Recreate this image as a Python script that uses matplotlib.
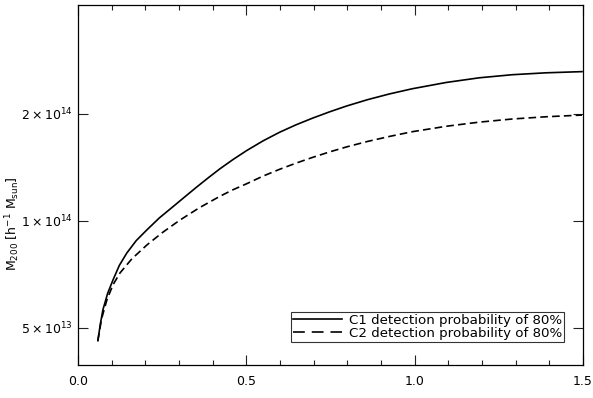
import matplotlib
matplotlib.use("Agg")
import matplotlib.pyplot as plt
from matplotlib.lines import Line2D
from matplotlib.ticker import FixedLocator, FixedFormatter, MultipleLocator, NullLocator

plt.rcParams['font.family'] = 'DejaVu Sans'
plt.rcParams['mathtext.default'] = 'regular'
plt.rcParams['lines.scale_dashes'] = False

# values
z_c1 = [0.059, 0.066, 0.074, 0.088, 0.104, 0.123, 0.145, 0.173, 0.205, 0.242, 0.282,
        0.318, 0.353, 0.387, 0.421, 0.460, 0.501, 0.550, 0.599, 0.648, 0.697, 0.748,
        0.798, 0.860, 0.925, 0.993, 1.094, 1.192, 1.290, 1.390, 1.497]
m_c1 = [4.6e13, 5.1e13, 5.62e13, 6.25e13, 6.82e13, 7.5e13, 8.12e13, 8.8e13, 9.44e13, 1.02e14, 1.096e14,
        1.17e14, 1.246e14, 1.322e14, 1.40e14, 1.487e14, 1.577e14, 1.68e14, 1.776e14, 1.864e14, 1.946e14, 2.028e14,
        2.105e14, 2.193e14, 2.276e14, 2.354e14, 2.452e14, 2.527e14, 2.578e14, 2.61e14, 2.63e14]

z_c2 = [0.059, 0.070, 0.086, 0.104, 0.125, 0.160, 0.205, 0.250, 0.302, 0.360, 0.421, 0.460,
        0.501, 0.550, 0.599, 0.648, 0.697, 0.748, 0.798, 0.860, 0.925, 0.993, 1.094, 1.192,
        1.290, 1.390, 1.497]
m_c2 = [4.6e13, 5.3e13, 6.0e13, 6.61e13, 7.14e13, 7.82e13, 8.56e13, 9.26e13, 1.004e14, 1.088e14, 1.172e14, 1.223e14,
        1.272e14, 1.337e14, 1.397e14, 1.454e14, 1.509e14, 1.564e14, 1.615e14, 1.673e14, 1.728e14, 1.782e14, 1.846e14, 1.896e14,
        1.935e14, 1.963e14, 1.985e14]

labels = ["C1 detection probability of 80%", "C2 detection probability of 80%"]
y_ticks = [5e13, 1e14, 2e14]
y_ticklabels = [r'$5\times10^{13}$', r'$1\times10^{14}$', r'$2\times10^{14}$']

fig = plt.figure(figsize=(5.93, 3.98), dpi=100)
ax = fig.add_axes([78/593, 1 - 365/398, 505/593, 360/398])

ax.plot(z_c1, m_c1, color='black', lw=1.2)
ax.plot(z_c2, m_c2, color='black', lw=1.2, dashes=(5.5, 3.0))

ax.set_yscale('log')
ax.set_xlim(0, 1.5)
ax.set_ylim(3.93e13, 4.05e14)

ax.yaxis.set_major_locator(FixedLocator(y_ticks))
ax.yaxis.set_major_formatter(FixedFormatter(y_ticklabels))
ax.yaxis.set_minor_locator(NullLocator())
ax.xaxis.set_major_locator(MultipleLocator(0.5))
ax.xaxis.set_minor_locator(MultipleLocator(0.1))
ax.xaxis.set_major_formatter(plt.FuncFormatter(lambda v, p: f"{v:.1f}"))

ax.tick_params(which='both', direction='in', top=True, right=True, labelsize=9,
               width=0.8, color='#222222')
ax.tick_params(which='major', length=7)
ax.tick_params(which='minor', length=3.5)
ax.tick_params(axis='x', pad=7)
ax.tick_params(axis='y', pad=4)
for s in ax.spines.values():
    s.set_linewidth(0.9)

ax.set_xlabel('z', fontsize=9)
ax.xaxis.set_label_coords(0.5, -0.1)
ax.set_ylabel(r'$M_{200}$ [$h^{-1}$ $M_{sun}$]', fontsize=9)
ax.yaxis.set_label_coords(-0.11, 0.392)

handles = [Line2D([], [], color='black', lw=1.2),
           Line2D([], [], color='black', lw=1.2, dashes=(8.5, 5.0))]
leg = ax.legend(handles, labels, loc='lower right', bbox_to_anchor=(0.962, 0.064),
                borderaxespad=0, fontsize=9.6, handlelength=3.7, handletextpad=0.5,
                labelspacing=0.0, borderpad=0.15, handleheight=0.6,
                fancybox=False, frameon=True)
leg.get_frame().set_edgecolor('black')
leg.get_frame().set_linewidth(0.8)

fig.savefig('out.png', dpi=100)
